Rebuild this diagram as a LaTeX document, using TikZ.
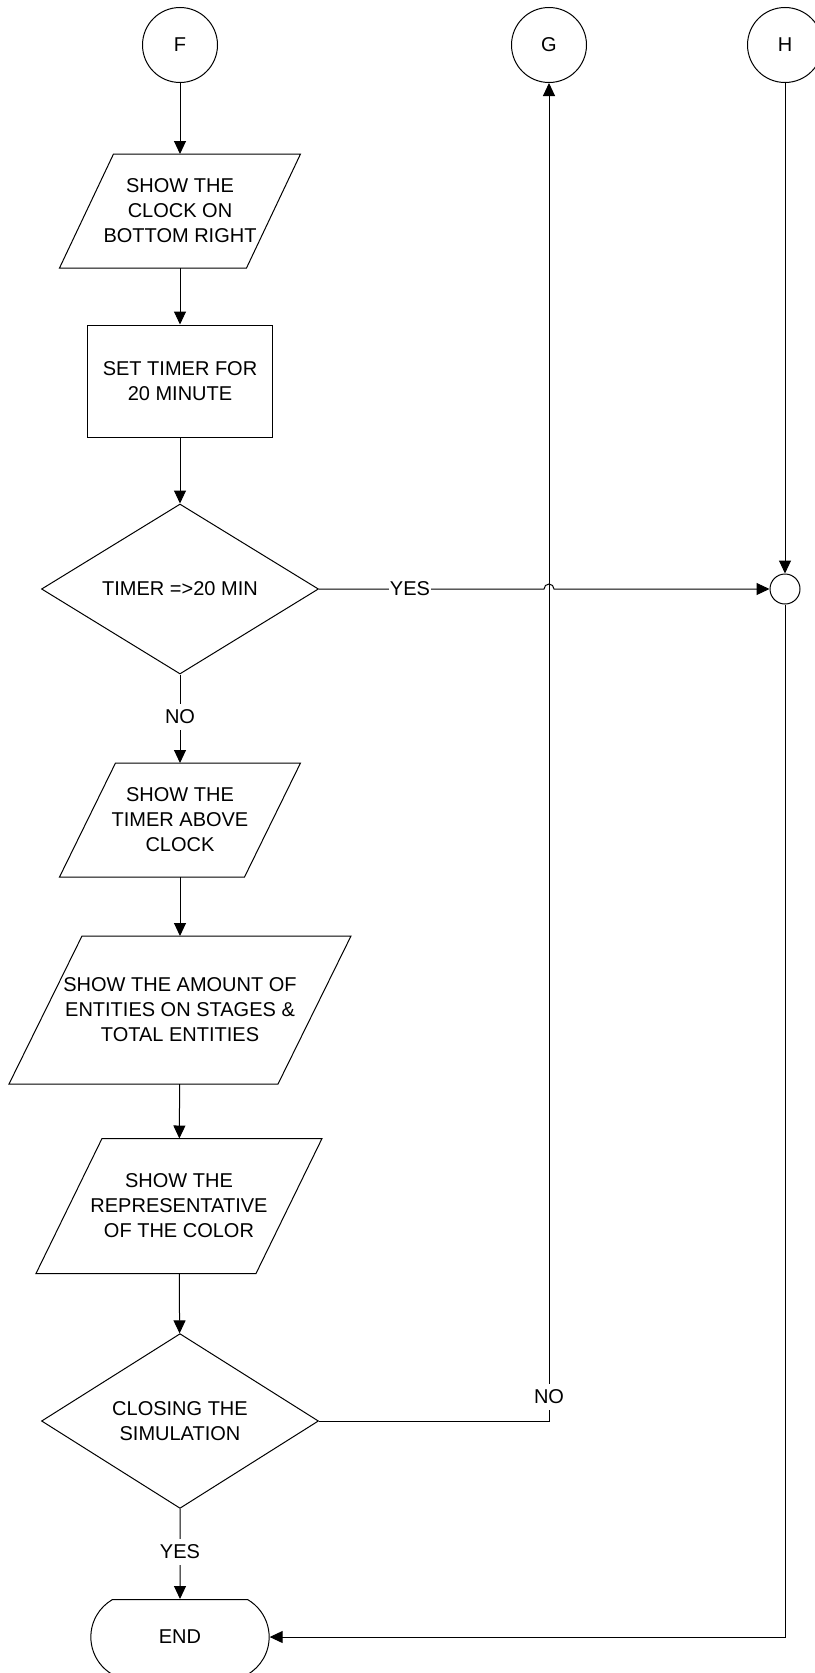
\documentclass[tikz,border=0pt]{standalone}
\usepackage{fontspec}
\setmainfont{Liberation Sans}
\usetikzlibrary{arrows.meta,shapes.geometric,shapes.misc}

\begin{document}
\begin{tikzpicture}[x=1pt,y=1pt,line width=1pt,
  every node/.style={font=\fontsize{20}{25}\selectfont},
  conn/.style={circle,draw,minimum size=75pt,inner sep=0pt},
  io/.style={rectangle,align=center,inner sep=0pt},
  proc/.style={rectangle,draw,align=center,minimum width=185pt,minimum height=112pt},
  decide/.style={diamond,draw,align=center,minimum width=277pt,minimum height=170pt,inner sep=0pt},
  term/.style={rounded rectangle,rounded rectangle arc length=120,draw,
    minimum width=185pt,minimum height=75pt},
  junct/.style={circle,draw,minimum size=30pt,inner sep=0pt},
  lbl/.style={fill=white,inner xsep=1pt,inner ysep=6pt},
  arr/.style={-{Triangle[length=13pt,width=12pt]}}]
 \useasboundingbox (0,0) rectangle (814,-1673);

 \node[conn] (f) at (180,-45) {F};
 \node[conn] (g) at (549,-45) {G};
 \node[conn] (h) at (785,-45) {H};

 \node[io,minimum width=186pt,minimum height=113pt] (showclock) at (180,-211)
   {SHOW THE\\CLOCK ON\\BOTTOM RIGHT};
 \node[proc] (settimer) at (180,-381) {SET TIMER FOR\\20 MINUTE};
 \node[decide] (timeup) at (180,-589) {TIMER =>20 MIN};
 \node[io,minimum width=184pt,minimum height=113pt] (showtimer) at (180,-820)
   {SHOW THE\\TIMER ABOVE\\CLOCK};
 \node[io,minimum width=268pt,minimum height=147pt] (showamount) at (180,-1010)
   {SHOW THE AMOUNT OF\\ENTITIES ON STAGES \&\\TOTAL ENTITIES};
 \node[io,minimum width=219pt,minimum height=134pt] (showcolor) at (179,-1206)
   {SHOW THE\\REPRESENTATIVE\\OF THE COLOR};
 \node[decide] (closing) at (180,-1421) {CLOSING THE\\SIMULATION};
 \node[term] (end) at (180,-1637) {END};

 % slanted outlines of the input/output boxes
 \foreach \n/\o in {showclock/27,showtimer/28,showamount/36.5,showcolor/33}
   \draw ([xshift=\o]\n.north west) -- ([xshift=\o]\n.north east)
     -- ([xshift=-\o]\n.south east) -- ([xshift=-\o]\n.south west) -- cycle;

 \node[junct] (jn) at (785,-589) {};
 \coordinate (hopL) at (544,-589);

 \draw[arr] (f)--(showclock);
 \draw[arr] (showclock)--(settimer);
 \draw[arr] (settimer)--(timeup);
 \draw[arr] (timeup)--(showtimer);
 \draw[arr] (showtimer)--(showamount);
 \draw[arr] (showamount)--(showcolor);
 \draw[arr] (showcolor)--(closing);
 \draw[arr] (closing)--(end);

 % loop back to G, yes branch jumps over it
 \draw[arr] (closing.east) -| (g.south);
 \draw[arr] (timeup.east) -- (hopL) arc[start angle=180,end angle=0,radius=5] -- (jn.west);
 \draw[arr] (h)--(jn);
 \draw[arr] (jn.south) |- (end.east);

 \node[lbl] (yes1) at (410,-589) {YES};
 \node[lbl] (no1) at (180,-717) {NO};
 \node[lbl] (no2) at (549,-1397) {NO};
 \node[lbl] (yes2) at (180,-1552) {YES};

\end{tikzpicture}
\end{document}
